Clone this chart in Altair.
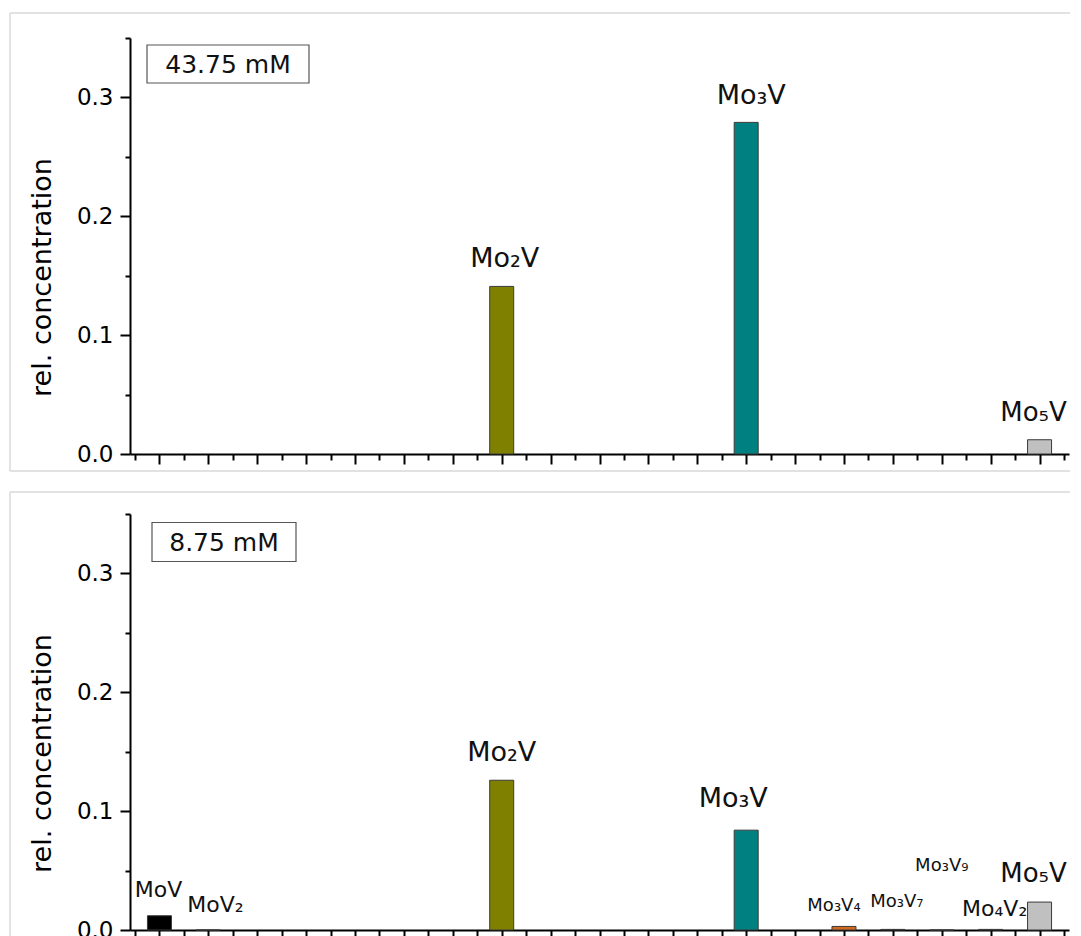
import altair as alt
import pandas as pd

# ---------------- data ----------------
# upper panel: 43.75 mM
top_names = ["Mo2V", "Mo3V", "Mo5V"]
top_pos = [7, 12, 18]
top_values = [0.141, 0.279, 0.012]
top_labels = ["Mo\u2082V", "Mo\u2083V", "Mo\u2085V"]

# lower panel: 8.75 mM
bot_names = ["MoV", "MoV2", "Mo2V", "Mo3V", "Mo3V4", "Mo3V7", "Mo3V9", "Mo4V2", "Mo5V"]
bot_pos = [0, 1, 7, 12, 14, 15, 16, 17, 18]
bot_values = [0.012, 0.0, 0.126, 0.084, 0.003, 0.0005, 0.0, 0.0005, 0.0235]
bot_labels = ["MoV", "MoV\u2082", "Mo\u2082V", "Mo\u2083V", "Mo\u2083V\u2084",
              "Mo\u2083V\u2087", "Mo\u2083V\u2089", "Mo\u2084V\u2082", "Mo\u2085V"]

conc_top = ["43.75 mM"]
conc_bot = ["8.75 mM"]

y_major = [0.0, 0.1, 0.2, 0.3]
y_minor = [0.05, 0.15, 0.25, 0.35]
x_major = [0, 1, 2, 3, 4, 5, 6, 7, 8, 9, 10, 11, 12, 13, 14, 15, 16, 17, 18]
x_minor = [-0.5, 0.5, 1.5, 2.5, 3.5, 4.5, 5.5, 6.5, 7.5, 8.5, 9.5,
           10.5, 11.5, 12.5, 13.5, 14.5, 15.5, 16.5, 17.5, 18.5]

# ---------------- styles ----------------
COLORS = {
    "MoV": "#000000", "MoV2": "#7f7f7f", "Mo2V": "#808000", "Mo3V": "#008080",
    "Mo3V4": "#d2691e", "Mo3V7": "#404040", "Mo3V9": "#404040",
    "Mo4V2": "#404040", "Mo5V": "#c0c0c0",
}
# name -> (fontSize, dx, dy)
TOP_STYLE = {"Mo2V": (27, 3, -19), "Mo3V": (27, 5, -18), "Mo5V": (26, -6, -19)}
BOT_STYLE = {
    "MoV": (22, -1, -19), "MoV2": (22, 7, -18), "Mo2V": (27, 0, -19),
    "Mo3V": (27, -13, -23), "Mo3V4": (18, -10, -15), "Mo3V7": (18, 4, -22),
    "Mo3V9": (18, 0, -59), "Mo4V2": (22, 4, -13), "Mo5V": (26, -6, -20),
}

W, H = 939, 416
FONT = "DejaVu Sans"
XS = alt.Scale(domain=[-0.5, 18.5], nice=False, zero=False)
YS = alt.Scale(domain=[0, 0.35], nice=False, zero=True)
FRAME = "#d9d9d9"


def panel(names, pos, vals, labels, styles, conc, box, frame):
    df = pd.DataFrame({"name": names, "pos": pos, "value": vals, "label": labels})
    base = alt.Chart(df)

    bars = base.mark_bar(size=24, stroke="#3a3a3a", strokeWidth=1).encode(
        x=alt.X("pos:Q", scale=XS, axis=alt.Axis(
            values=x_major, orient="bottom", labels=False, ticks=True, tickSize=10,
            tickWidth=2, tickColor="black", domain=True, domainWidth=2,
            domainColor="black", grid=False, title=None)),
        y=alt.Y("value:Q", scale=YS, axis=alt.Axis(
            values=y_major, orient="left", format=".1f", labelFontSize=23,
            labelFont=FONT, labelColor="black", labelPadding=7, labelFlush=False,
            tickSize=10, tickWidth=2, tickColor="black", domainWidth=2,
            domainColor="black", grid=False, title="rel. concentration",
            titleFont=FONT, titleFontSize=27, titleFontWeight="normal",
            titleColor="black", titleX=-80, titleY=239, titleAngle=270,
            titleAlign="center", titleBaseline="alphabetic")),
        color=alt.Color("name:N", scale=alt.Scale(domain=list(COLORS.keys()),
                                                  range=list(COLORS.values())),
                        legend=None),
    )

    minor = base.mark_point(opacity=0).encode(
        x=alt.X("pos:Q", scale=XS, axis=alt.Axis(
            values=x_minor, orient="bottom", labels=False, tickSize=6, tickWidth=2,
            tickColor="black", domain=False, grid=False, title=None)),
        y=alt.Y("value:Q", scale=YS, axis=alt.Axis(
            values=y_minor, orient="left", labels=False, tickSize=5, tickWidth=2,
            tickColor="black", domain=False, grid=False, title=None)),
    )

    texts = []
    for n in names:
        fs, dx, dy = styles[n]
        texts.append(
            base.transform_filter(alt.datum.name == n)
            .mark_text(fontSize=fs, dx=dx, dy=dy, align="center",
                       baseline="alphabetic", color="#111111", font=FONT)
            .encode(x=alt.X("pos:Q", scale=XS, axis=None),
                    y=alt.Y("value:Q", scale=YS, axis=None),
                    text="label:N")
        )

    cdf = pd.DataFrame({"t": conc})
    bx0, bx1, by0, by1 = box
    cbox = alt.Chart(cdf).mark_rect(fill="white", stroke="#555555", strokeWidth=1.2).encode(
        x=alt.value(bx0), x2=alt.value(bx1), y=alt.value(by0), y2=alt.value(by1))
    ctext = alt.Chart(cdf).mark_text(fontSize=25, align="center", baseline="middle",
                                     color="#111111", font=FONT).encode(
        x=alt.value((bx0 + bx1) / 2), y=alt.value((by0 + by1) / 2 + 1), text="t:N")

    fx0, fx1, fy0, fy1, with_bottom = frame
    frames = [
        alt.Chart(cdf).mark_rule(color=FRAME, strokeWidth=1.5).encode(
            x=alt.value(fx0), x2=alt.value(fx1), y=alt.value(fy0)),
        alt.Chart(cdf).mark_rule(color=FRAME, strokeWidth=1.5).encode(
            x=alt.value(fx0), y=alt.value(fy0), y2=alt.value(fy1)),
    ]
    if with_bottom:
        frames.append(alt.Chart(cdf).mark_rule(color=FRAME, strokeWidth=1.5).encode(
            x=alt.value(fx0), x2=alt.value(fx1), y=alt.value(fy1)))

    return alt.layer(*frames, bars, minor, cbox, ctext, *texts).resolve_axis(
        x="independent", y="independent").properties(width=W, height=H)


top = panel(top_names, top_pos, top_values, top_labels, TOP_STYLE, conc_top,
            (17, 179, 7, 45), (-120, W + 1, -25, H + 17, True))
bot = panel(bot_names, bot_pos, bot_values, bot_labels, BOT_STYLE, conc_bot,
            (22, 166, 8.5, 47.5), (-120, W + 1, -22, H + 8, False))

chart = alt.vconcat(top, bot, spacing=17).properties(
    padding={"left": 0, "top": 3, "right": 0, "bottom": 0}
).configure(font=FONT).configure_view(stroke="transparent")

chart.save("out.html", embed_options={"renderer": "svg", "actions": False})
